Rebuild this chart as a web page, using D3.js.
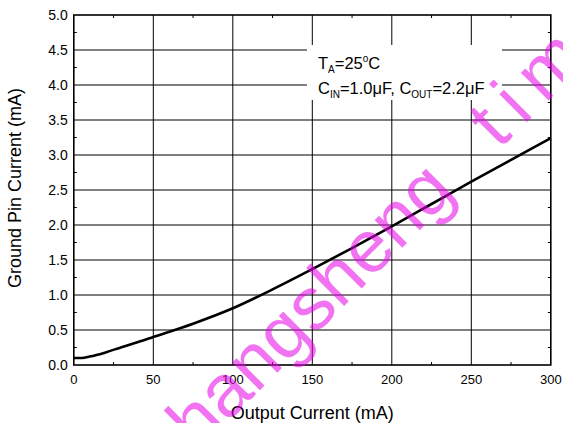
<!DOCTYPE html>
<html>
<head>
<meta charset="utf-8">
<script src="https://cdn.jsdelivr.net/npm/d3@7"></script>
<style>
    body { margin: 0; background: #fff; }
    text { font-family: "Liberation Sans", Arial, sans-serif; }
</style>
</head>
<body>
<div id="chart"></div>
<script>
// Datos
const outputCurrent = [0, 5, 10, 20, 30, 40, 50, 75, 100, 125, 150, 175, 200, 225, 250, 275, 300];
const groundCurrent = [0.10, 0.10, 0.12, 0.18, 0.255, 0.325, 0.40, 0.59, 0.81, 1.08, 1.37, 1.67, 1.98, 2.30, 2.62, 2.93, 3.24];

const xMajor = [0, 50, 100, 150, 200, 250, 300];
const xMinor = [25, 75, 125, 175, 225, 275];
const yMajor = [0, 0.5, 1.0, 1.5, 2.0, 2.5, 3.0, 3.5, 4.0, 4.5, 5.0];
const yMinor = [0.25, 0.75, 1.25, 1.75, 2.25, 2.75, 3.25, 3.75, 4.25, 4.75];

const width = 563;
const height = 423;
const margin = { top: 15, right: 12.2, bottom: 58, left: 73.8 };
const innerW = width - margin.left - margin.right;
const innerH = height - margin.top - margin.bottom;

const svg = d3.select("#chart")
    .append("svg")
    .attr("width", width)
    .attr("height", height);

const g = svg.append("g")
    .attr("transform", `translate(${margin.left},${margin.top})`);

const x = d3.scaleLinear().domain([0, 300]).range([0, innerW]);
const y = d3.scaleLinear().domain([0, 5]).range([innerH, 0]);

// Rejilla
g.selectAll(".vgrid")
    .data(xMajor.slice(1, -1))
    .enter().append("line")
    .attr("x1", d => x(d)).attr("x2", d => x(d))
    .attr("y1", 0).attr("y2", innerH)
    .attr("stroke", "#000").attr("stroke-width", 1);

g.selectAll(".hgrid")
    .data(yMajor.slice(1, -1))
    .enter().append("line")
    .attr("x1", 0).attr("x2", innerW)
    .attr("y1", d => y(d)).attr("y2", d => y(d))
    .attr("stroke", "#000").attr("stroke-width", 1);

// Ticks menores hacia dentro
const tickLen = 3;
g.selectAll(".xminB").data(xMinor).enter().append("line")
    .attr("x1", d => x(d)).attr("x2", d => x(d))
    .attr("y1", innerH).attr("y2", innerH - tickLen)
    .attr("stroke", "#000");
g.selectAll(".xminT").data(xMinor).enter().append("line")
    .attr("x1", d => x(d)).attr("x2", d => x(d))
    .attr("y1", 0).attr("y2", tickLen)
    .attr("stroke", "#000");
g.selectAll(".yminL").data(yMinor).enter().append("line")
    .attr("x1", 0).attr("x2", tickLen)
    .attr("y1", d => y(d)).attr("y2", d => y(d))
    .attr("stroke", "#000");
g.selectAll(".yminR").data(yMinor).enter().append("line")
    .attr("x1", innerW).attr("x2", innerW - tickLen)
    .attr("y1", d => y(d)).attr("y2", d => y(d))
    .attr("stroke", "#000");

// Caja blanca de la leyenda
g.append("rect")
    .attr("x", 307 - margin.left)
    .attr("y", 45 - margin.top)
    .attr("width", 195)
    .attr("height", 55)
    .attr("fill", "#fff");

const note = g.append("text")
    .attr("font-size", 16.5)
    .attr("fill", "#000");

const line1 = note.append("tspan").attr("x", 318 - margin.left).attr("y", 69 - margin.top);
line1.append("tspan").text("T");
line1.append("tspan").attr("font-size", 10).attr("dy", 4).text("A");
line1.append("tspan").attr("dy", -4).text("=25");
line1.append("tspan").attr("font-size", 10).attr("dy", -7).text("o");
line1.append("tspan").attr("dy", 7).text("C");

const line2 = note.append("tspan").attr("x", 318 - margin.left).attr("y", 94 - margin.top);
line2.append("tspan").text("C");
line2.append("tspan").attr("font-size", 10).attr("dy", 4).text("IN");
line2.append("tspan").attr("dy", -4).text("=1.0\u03bcF, C");
line2.append("tspan").attr("font-size", 10).attr("dy", 4).text("OUT");
line2.append("tspan").attr("dy", -4).text("=2.2\u03bcF");

// Curva
const points = outputCurrent.map((d, i) => [d, groundCurrent[i]]);
g.append("path")
    .datum(points)
    .attr("fill", "none")
    .attr("stroke", "#000")
    .attr("stroke-width", 2.6)
    .attr("d", d3.line()
        .x(d => x(d[0]))
        .y(d => y(d[1]))
        .curve(d3.curveMonotoneX));

// Marco
g.append("rect")
    .attr("x", 0).attr("y", 0)
    .attr("width", innerW).attr("height", innerH)
    .attr("fill", "none")
    .attr("stroke", "#000")
    .attr("stroke-width", 1.6);

// Etiquetas de ticks
g.selectAll(".xlab").data(xMajor).enter().append("text")
    .attr("x", d => x(d))
    .attr("y", innerH + 19)
    .attr("text-anchor", "middle")
    .attr("font-size", 13)
    .text(d => d);

g.selectAll(".ylab").data(yMajor).enter().append("text")
    .attr("x", -6)
    .attr("y", d => y(d))
    .attr("dy", "0.35em")
    .attr("text-anchor", "end")
    .attr("font-size", 14)
    .text(d => d.toFixed(1));

// Títulos de ejes
g.append("text")
    .attr("x", innerW / 2)
    .attr("y", innerH + 54)
    .attr("text-anchor", "middle")
    .attr("font-size", 18)
    .text("Output Current (mA)");

svg.append("text")
    .attr("transform", `translate(20.5,${margin.top + innerH / 2 - 2}) rotate(-90)`)
    .attr("text-anchor", "middle")
    .attr("font-size", 18)
    .text("Ground Pin Current (mA)");

// Marca de agua
const wm = svg.append("g")
    .attr("fill", "#e800e8")
    .attr("fill-opacity", 0.55)
    .attr("font-size", 74);

wm.append("text")
    .attr("transform", "translate(457,193) rotate(-45)")
    .attr("text-anchor", "end")
    .text("changsheng");

wm.append("text")
    .attr("transform", "translate(499,150) rotate(-45)")
    .attr("letter-spacing", 14)
    .text("tim");
</script>
</body>
</html>
